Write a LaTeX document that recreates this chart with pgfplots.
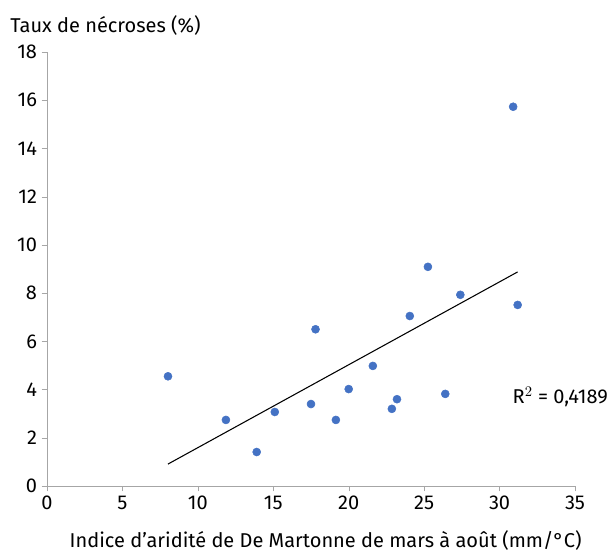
\documentclass[border=0pt]{standalone}
\usepackage{pgfplots}
\pgfplotsset{compat=1.18}
\usepackage{fontspec}
\setmainfont{Fira Sans}
\begin{document}
\begin{tikzpicture}
\useasboundingbox (-35.25pt,-48.75pt) rectangle (423pt,364.5pt);
\begin{axis}[at={(0,0)},anchor=origin,scale only axis,width=396pt,height=325.5pt,
 xmin=0,xmax=35,ymin=0,ymax=18,xtick={0,5,...,35},ytick={0,2,...,18},
 axis lines=left, axis line style={-,gray!70}, tick style={gray!70},
 tick align=outside, major tick length=4pt,
 /pgf/number format/assume math mode=true,
 ticklabel style={font=\fontsize{15}{16}\selectfont},
 clip=false]
\addplot[only marks,mark=*,mark size=3pt,color={rgb,255:red,68;green,114;blue,196}] coordinates {
(8.02,4.55)(11.86,2.74)(13.9,1.41)(15.1,3.07)(17.5,3.4)(17.8,6.5)(19.15,2.74)(20.0,4.02)
(21.6,4.98)(22.86,3.2)(23.2,3.6)(24.05,7.05)(25.25,9.09)(26.4,3.82)(27.4,7.93)(30.9,15.73)(31.2,7.51)};
\addplot[black,thick] coordinates {(8.02,0.91)(31.2,8.88)};
\end{axis}
\node[anchor=west,inner sep=0pt,font=\fontsize{15}{16}\selectfont] at (-27.75pt,345pt) {Taux de nécroses (\%)};
\node[font=\fontsize{15}{16}\selectfont] at (209pt,-40.5pt) {Indice d'aridité de De Martonne de mars à août (mm/°C)};
\node[anchor=east,inner sep=0pt,font=\fontsize{15}{16}\selectfont] at (420.75pt,66.75pt) {R$^2$ = 0,4189};
\end{tikzpicture}
\end{document}
